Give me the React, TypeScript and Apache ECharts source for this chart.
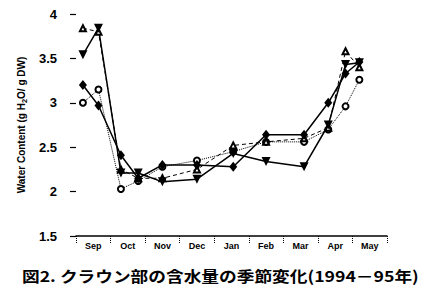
import React, { useEffect, useRef } from "react";
import * as echarts from "echarts";

const months = ["Sep", "Oct", "Nov", "Dec", "Jan", "Feb", "Mar", "Apr", "May"];
// sampling times in months after 1 September
const times = [0.2, 0.65, 1.3, 1.8, 2.5, 3.5, 4.55, 5.5, 6.6, 7.3, 7.8, 8.2];
const diamondVals = [3.2, 2.97, 2.41, 2.15, 2.3, 2.3, 2.28, 2.64, 2.64, 3.0, 3.33, 3.46];
const filledTriVals = [3.54, 3.84, 2.21, 2.21, 2.11, 2.14, 2.43, 2.34, 2.28, 2.75, 3.43, 3.45];
const openCircleVals = [3.0, 3.15, 2.03, 2.12, 2.28, 2.35, 2.45, 2.56, 2.56, 2.7, 2.96, 3.26];
const openTriVals = [3.84, 3.8, 2.25, 2.15, 2.15, 2.25, 2.52, 2.56, 2.6, 2.72, 3.58, 3.4];
const yTicks = { min: 1.5, max: 4, interval: 0.5 };
const yName = "Water Content (g H{sub|2}O/ g DW)";
const caption = "図2. クラウン部の含水量の季節変化(1994－95年)";

const pairs = (vals: number[]) => vals.map((v, i) => [times[i], v]);

export default function App() {
  const ref = useRef<HTMLDivElement>(null);
  useEffect(() => {
    if (!ref.current) return;
    const chart = echarts.init(ref.current, null, { renderer: "svg" });
    const font = "'Liberation Sans', Arial, sans-serif";
    chart.setOption({
      animation: false,
      backgroundColor: "#fff",
      grid: { left: 76, right: 43, top: 14, bottom: 58 },
      xAxis: [
        {
          type: "category",
          data: months,
          boundaryGap: true,
          axisLine: { lineStyle: { color: "#000", width: 1.5 } },
          axisTick: { show: true, length: 8, lineStyle: { color: "#000", width: 1, type: "dotted" } },
          axisLabel: { color: "#000", fontFamily: font, fontWeight: "bold", fontSize: 9, margin: 5 },
        },
        { type: "value", min: 0, max: 9, show: false },
      ],
      yAxis: {
        type: "value",
        min: yTicks.min,
        max: yTicks.max,
        interval: yTicks.interval,
        axisLine: { show: false },
        axisTick: { show: true, length: 6, lineStyle: { color: "#000", width: 1.2 } },
        splitLine: { show: false },
        axisLabel: { color: "#000", fontFamily: font, fontWeight: "bold", fontSize: 13, margin: 19 },
        name: yName,
        nameLocation: "middle",
        nameGap: 44,
        nameTextStyle: {
          color: "#000",
          fontFamily: font,
          fontWeight: "bold",
          fontSize: 10,
          rich: {
            sub: { color: "#000", fontFamily: font, fontWeight: "bold", fontSize: 7.5, padding: [5, 0, 0, 0] },
          },
        },
      },
      series: [
        {
          type: "line",
          xAxisIndex: 1,
          data: pairs(openCircleVals),
          symbol: "emptyCircle",
          symbolSize: 6,
          itemStyle: { color: "#000", borderWidth: 1 },
          lineStyle: { color: "#000", width: 1, type: "dotted" },
        },
        {
          type: "line",
          xAxisIndex: 1,
          data: pairs(openTriVals),
          symbol: "emptyTriangle",
          symbolSize: 6,
          itemStyle: { color: "#000", borderWidth: 1 },
          lineStyle: { color: "#000", width: 1, type: [4, 3] },
        },
        {
          type: "line",
          xAxisIndex: 1,
          data: pairs(filledTriVals),
          symbol: "triangle",
          symbolRotate: 180,
          symbolSize: 9,
          itemStyle: { color: "#000" },
          lineStyle: { color: "#000", width: 1.5 },
        },
        {
          type: "line",
          xAxisIndex: 1,
          data: pairs(diamondVals),
          symbol: "diamond",
          symbolSize: [8, 10],
          itemStyle: { color: "#000" },
          lineStyle: { color: "#000", width: 1.5 },
        },
      ],
      graphic: [
        {
          type: "text",
          x: 22,
          y: 276,
          scaleX: 1.18,
          style: {
            text: caption,
            fill: "#000",
            font: "bold 15px 'Noto Sans CJK JP', sans-serif",
            verticalAlign: "middle",
          },
        },
      ],
    });
    return () => chart.dispose();
  }, []);
  return <div ref={ref} style={{ width: 430, height: 294, position: "absolute", left: 0, top: 0 }} />;
}
